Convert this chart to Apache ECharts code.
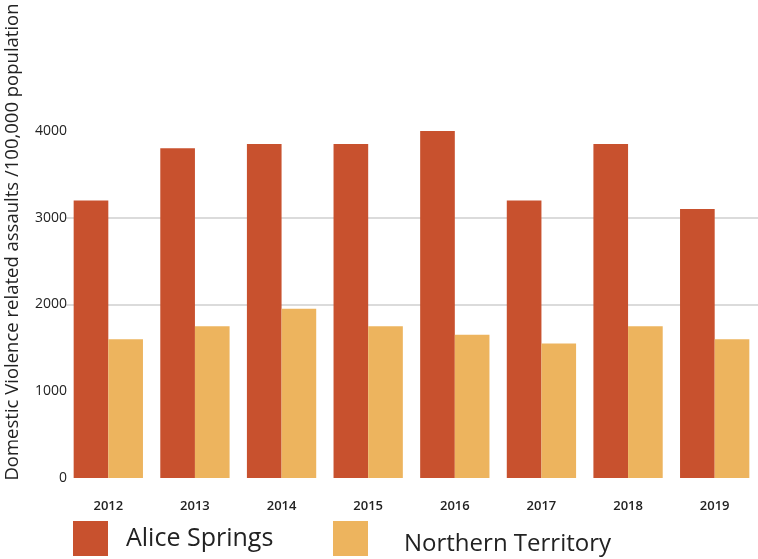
<!DOCTYPE html>
<html>
<head>
<meta charset="utf-8">
<script src="https://cdn.jsdelivr.net/npm/echarts@6/dist/echarts.min.js"></script>
<style>html,body{margin:0;padding:0;background:#fff;}#c{width:758px;height:559px;}</style>
</head>
<body>
<div id="c"></div>
<script>
const years = ['2012','2013','2014','2015','2016','2017','2018','2019'];
const aliceSprings = [3200, 3800, 3850, 3850, 4000, 3200, 3850, 3100];
const northernTerritory = [1600, 1750, 1950, 1750, 1650, 1550, 1750, 1600];
const yTicks = [0, 1000, 2000, 3000, 4000];
const yTitle = 'Domestic Violence related assaults /100,000 population';
const seriesNames = ['Alice Springs', 'Northern Territory'];

const FONT = '"Open Sans", sans-serif';
const chart = echarts.init(document.getElementById('c'), null, {renderer: 'canvas'});
chart.setOption({
  animation: false,
  backgroundColor: '#ffffff',
  textStyle: {fontFamily: FONT},
  grid: {left: 65, right: 0, top: 131, bottom: 81, containLabel: false},
  legend: [
    {
      left: 73, top: 521, padding: 0, itemWidth: 35, itemHeight: 35, icon: 'rect',
      data: [seriesNames[0]],
      selectedMode: false,
      textStyle: {fontFamily: FONT, fontSize: 25, color: '#222', padding: [0, 0, 0, 13]}
    },
    {
      left: 333, top: 521, padding: 0, itemWidth: 35, itemHeight: 35, icon: 'rect',
      data: [seriesNames[1]],
      selectedMode: false,
      formatter: function (name) { return '{n|' + name + '}'; },
      textStyle: {
        fontFamily: FONT, fontSize: 24, color: '#222', padding: [0, 0, 0, 31],
        rich: {n: {fontFamily: FONT, fontSize: 24, color: '#222', padding: [12, 0, 0, 0]}}
      }
    }
  ],
  xAxis: {
    type: 'category',
    data: years,
    axisLine: {show: false},
    axisTick: {show: false},
    axisLabel: {fontFamily: FONT, fontSize: 13, fontWeight: 600, color: '#222', margin: 22}
  },
  yAxis: {
    type: 'value',
    min: yTicks[0], max: yTicks[yTicks.length - 1], interval: 1000,
    axisLine: {show: false},
    axisTick: {show: false},
    axisLabel: {fontFamily: FONT, fontSize: 14, color: '#222', margin: -2, padding: [0, 0, 8, 0],
                formatter: function (v) { return String(v); }},
    splitLine: {show: true, lineStyle: {color: ['rgba(0,0,0,0)', 'rgba(0,0,0,0)', '#cfcfcf', '#cfcfcf', 'rgba(0,0,0,0)'], width: 1.5}}
  },
  graphic: [{
    type: 'text',
    x: 13, y: 242,
    rotation: Math.PI / 2,
    style: {text: yTitle, fontFamily: FONT, fontSize: 18.5, fill: '#222', align: 'center', verticalAlign: 'middle'}
  }],
  series: [
    {name: seriesNames[0], type: 'bar', data: aliceSprings, barGap: '0%', barCategoryGap: '20%',
     itemStyle: {color: '#C8512E'}},
    {name: seriesNames[1], type: 'bar', data: northernTerritory, barGap: '0%', barCategoryGap: '20%',
     itemStyle: {color: '#EDB45E'}}
  ]
});
</script>
</body>
</html>
